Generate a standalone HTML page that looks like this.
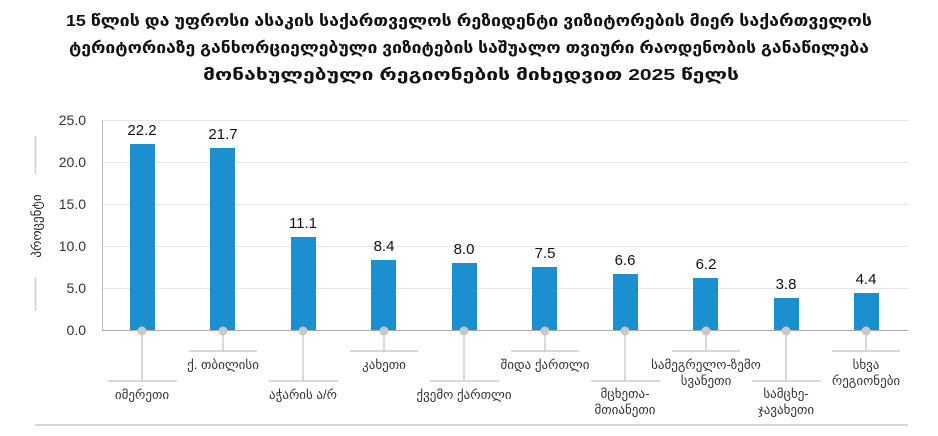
<!DOCTYPE html>
<html><head><meta charset="utf-8"><style>
html,body{margin:0;padding:0;background:#fff;}
svg{display:block;font-family:"Liberation Sans","DejaVu Sans",sans-serif;}
</style></head><body>
<svg width="938" height="436" viewBox="0 0 938 436" xmlns="http://www.w3.org/2000/svg">
<g font-weight="bold" font-size="16" fill="#111" text-anchor="middle">
<text x="469" y="26" textLength="806" lengthAdjust="spacingAndGlyphs">15 წლის და უფროსი ასაკის საქართველოს რეზიდენტი ვიზიტორების მიერ საქართველოს</text>
<text x="469" y="53" textLength="800" lengthAdjust="spacingAndGlyphs">ტერიტორიაზე განხორციელებული ვიზიტების საშუალო თვიური რაოდენობის განაწილება</text>
<text x="471" y="80" textLength="536" lengthAdjust="spacingAndGlyphs">მონახულებული რეგიონების მიხედვით 2025 წელს</text>
</g>
<g stroke="#e6e6e6" stroke-width="1">
<line x1="102" y1="120.5" x2="908" y2="120.5"/>
<line x1="102" y1="162.5" x2="908" y2="162.5"/>
<line x1="102" y1="204.5" x2="908" y2="204.5"/>
<line x1="102" y1="246.5" x2="908" y2="246.5"/>
<line x1="102" y1="288.5" x2="908" y2="288.5"/>
</g>
<line x1="102.5" y1="120" x2="102.5" y2="330" stroke="#bbb"/>
<line x1="102" y1="330.5" x2="908" y2="330.5" stroke="#aaa"/>
<g font-size="14" fill="#333" text-anchor="end">
<text x="86" y="125">25.0</text><text x="86" y="167">20.0</text><text x="86" y="209">15.0</text>
<text x="86" y="251">10.0</text><text x="86" y="293">5.0</text><text x="86" y="335">0.0</text>
</g>
<line x1="35.5" y1="136" x2="35.5" y2="174" stroke="#ccc" stroke-width="1.5"/>
<line x1="35.5" y1="278" x2="35.5" y2="311" stroke="#ccc" stroke-width="1.5"/>
<text transform="translate(41,226) rotate(-90)" font-size="13" fill="#222" text-anchor="middle">პროცენტი</text>
<g fill="#1b8fd0">
<rect x="130" y="144" width="25" height="186"/>
<rect x="210" y="148" width="25" height="182"/>
<rect x="291" y="237" width="25" height="93"/>
<rect x="371" y="260" width="25" height="70"/>
<rect x="452" y="263" width="25" height="67"/>
<rect x="532" y="267" width="25" height="63"/>
<rect x="613" y="274" width="25" height="56"/>
<rect x="693" y="278" width="25" height="52"/>
<rect x="774" y="298" width="25" height="32"/>
<rect x="854" y="293" width="25" height="37"/>
</g>
<g font-size="15" fill="#111" text-anchor="middle">
<text x="142" y="135">22.2</text><text x="223" y="139">21.7</text><text x="303" y="228">11.1</text>
<text x="384" y="251">8.4</text><text x="464" y="254">8.0</text><text x="545" y="258">7.5</text>
<text x="625" y="265">6.6</text><text x="706" y="269">6.2</text><text x="786" y="289">3.8</text>
<text x="866" y="284">4.4</text>
</g>
<g stroke="#ccc" stroke-width="1.5">
<line x1="142" y1="331" x2="142" y2="381"/><line x1="108" y1="381" x2="177" y2="381"/>
<line x1="223" y1="331" x2="223" y2="351"/><line x1="189" y1="351" x2="257" y2="351"/>
<line x1="303" y1="331" x2="303" y2="381"/><line x1="269" y1="381" x2="338" y2="381"/>
<line x1="384" y1="331" x2="384" y2="351"/><line x1="350" y1="351" x2="418" y2="351"/>
<line x1="464" y1="331" x2="464" y2="381"/><line x1="430" y1="381" x2="499" y2="381"/>
<line x1="545" y1="331" x2="545" y2="351"/><line x1="511" y1="351" x2="579" y2="351"/>
<line x1="625" y1="331" x2="625" y2="381"/><line x1="591" y1="381" x2="660" y2="381"/>
<line x1="706" y1="331" x2="706" y2="351"/><line x1="672" y1="351" x2="740" y2="351"/>
<line x1="786" y1="331" x2="786" y2="381"/><line x1="752" y1="381" x2="821" y2="381"/>
<line x1="866" y1="331" x2="866" y2="351"/><line x1="832" y1="351" x2="900" y2="351"/>
<line x1="35" y1="425" x2="908" y2="425"/>
</g>
<g fill="#c8c8c8">
<circle cx="142" cy="331" r="4.5"/><circle cx="223" cy="331" r="4.5"/><circle cx="303" cy="331" r="4.5"/>
<circle cx="384" cy="331" r="4.5"/><circle cx="464" cy="331" r="4.5"/><circle cx="545" cy="331" r="4.5"/>
<circle cx="625" cy="331" r="4.5"/><circle cx="706" cy="331" r="4.5"/><circle cx="786" cy="331" r="4.5"/>
<circle cx="866" cy="331" r="4.5"/>
</g>
<g font-size="13" fill="#333" text-anchor="middle">
<text x="142" y="399">იმერეთი</text>
<text x="223" y="369">ქ. თბილისი</text>
<text x="303" y="399">აჭარის ა/რ</text>
<text x="384" y="369">კახეთი</text>
<text x="464" y="399">ქვემო ქართლი</text>
<text x="545" y="369">შიდა ქართლი</text>
<text x="625" y="398">მცხეთა-</text><text x="625" y="414">მთიანეთი</text>
<text x="706" y="369">სამეგრელო-ზემო</text><text x="706" y="385">სვანეთი</text>
<text x="786" y="398">სამცხე-</text><text x="786" y="414">ჯავახეთი</text>
<text x="866" y="369">სხვა</text><text x="866" y="385">რეგიონები</text>
</g>
</svg>
</body></html>
